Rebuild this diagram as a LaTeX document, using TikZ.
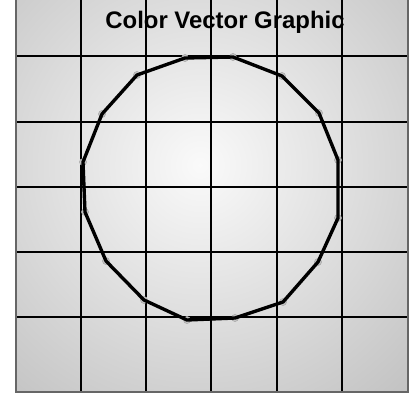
\documentclass[tikz,border=0pt]{standalone}
\usepackage{fontspec}
\setmainfont{Liberation Sans}
\usepackage{tikz}
\usetikzlibrary{positioning, calc}

\begin{document}
\begin{tikzpicture}[
  x=0.025cm, y=-0.025cm,
  grid line/.style = {draw=black, line width=0.8pt},
  outline/.style = {draw=black, line width=2.4pt, line join=round},
  dot/.style = {draw=gray!70, fill=gray!45, circle, inner sep=0pt, minimum size=5pt},
  title/.style = {font=\bfseries\fontsize{17}{20}\selectfont, inner sep=0pt}
  ]
  \useasboundingbox (0,0) rectangle (414,395);
  % paper
  \begin{scope}
    \clip (16,0) rectangle (408,392);
    \shade[inner color=gray!4, outer color=gray!48] (200,165) circle (310);
  \end{scope}
  % grid
  \foreach \gx in {81,146,211,277,342} \draw[grid line] (\gx,0) -- (\gx,392);
  \foreach \gy in {56,122,187,252,317} \draw[grid line] (16,\gy) -- (408,\gy);
  \draw[grid line, draw=gray!80!black] (16,0) -- (16,392) -- (408,392) -- (408,0);
  % title
  \node[title, anchor=base] (title) at (225,28) {Color Vector Graphic};
  % vertices
  \foreach \name/\px/\py in {v1/185/58, v2/233/57, v3/282/76, v4/319/113,
      v5/338/160, v6/338/218, v7/318/262, v8/283/302, v9/235/318, v10/187/320,
      v11/144/300, v12/106/261, v13/85/212, v14/83/162, v15/102/114, v16/137/75}
    \node[dot] (\name) at (\px,\py) {};
  \draw[outline] (v1.center) \foreach \i in {2,...,16} {-- (v\i.center)} -- cycle;
\end{tikzpicture}
\end{document}
